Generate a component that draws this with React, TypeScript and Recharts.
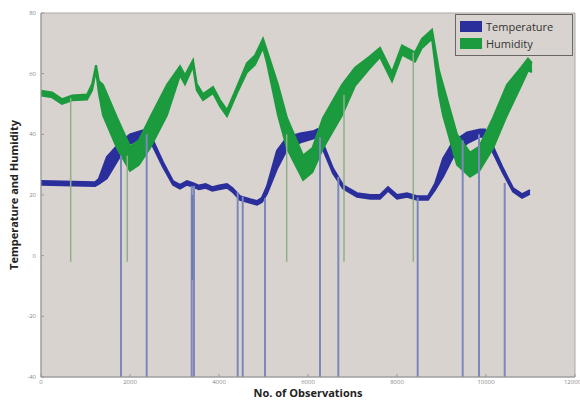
import React from "react";
import {
  ComposedChart,
  Area,
  XAxis,
  YAxis,
  ReferenceArea,
  ReferenceLine,
  Legend,
  Label,
} from "recharts";

// temperature trace: observation index, value, half thickness of the noisy band
const tempObs = [
  0, 1213, 1300, 1480, 1775, 2000, 2290, 2517, 2742, 2966, 3124, 3280, 3420, 3550,
  3700, 3850, 4000, 4180, 4300, 4472, 4700, 4854, 4966, 5079, 5303, 5528, 5820,
  6112, 6220, 6337, 6562, 6787, 7101, 7400, 7618, 7798, 8000, 8225, 8450, 8697,
  8854, 9034, 9258, 9573, 9865, 9978, 10157, 10382, 10607, 10809, 10989,
];
const tempVal = [
  24, 23.6, 24.5, 29, 35, 38.5, 39.8, 37, 30, 24, 22.7, 24, 23.3, 22.5, 23, 22,
  22.5, 23, 21.7, 19, 18, 17.4, 18.4, 21.7, 31.6, 37, 38.8, 39.8, 40.5, 36, 28,
  22.7, 20, 19.4, 19.4, 22, 19.4, 20, 19, 19, 22.7, 29, 35, 38.8, 40.4, 40.4, 35,
  28, 21.7, 19.7, 21,
];
const tempBand = [
  0.6, 0.6, 0.8, 3.5, 2.3, 1.5, 1.5, 1, 0.8, 0.6, 0.6, 0.6, 0.6, 0.6, 0.6, 0.6,
  0.6, 0.6, 0.6, 0.6, 0.6, 0.6, 0.7, 1.2, 3, 2, 1.5, 1.2, 1.2, 1, 0.8, 0.6, 0.6,
  0.6, 0.6, 0.6, 0.6, 0.6, 0.6, 0.6, 1, 3, 2.5, 1.8, 1.2, 1.2, 1, 0.8, 0.6, 0.6,
  0.6,
];

// humidity trace
const humObs = [
  0, 250, 470, 700, 1034, 1150, 1236, 1300, 1393, 1708, 2000, 2200, 2450, 2831,
  3124, 3236, 3416, 3500, 3640, 3865, 4022, 4180, 4404, 4629, 4809, 4989, 5079,
  5326, 5528, 5890, 6100, 6337, 6764, 7056, 7371, 7618, 7888, 8112, 8404, 8560,
  8787, 8944, 9034, 9348, 9640, 9850, 10157, 10472, 10787, 10944, 11034,
];
const humVal = [
  53.6, 53, 50.8, 52, 52.3, 55.6, 62, 55.6, 51.3, 40.5, 32, 34, 40.5, 51.3, 61, 58,
  63.5, 55.6, 52.3, 54.6, 50.3, 47, 54.6, 62, 64.5, 70, 65.5, 51.3, 40.4, 29, 31.5,
  40.4, 51.3, 59, 63.5, 67, 59, 67.8, 65.5, 70, 73, 57, 51.3, 35, 30, 32, 40.4,
  51.3, 59, 63, 62,
];
const humBand = [
  0.8, 0.8, 0.8, 0.8, 0.8, 1, 0.8, 2, 5, 5, 4, 4, 5, 5, 1.5, 1.5, 1, 1, 1, 1, 1, 1,
  1, 1.5, 1.5, 1.5, 2, 5, 5, 4, 4, 5, 5, 3, 2, 1.5, 1.5, 1.5, 1.5, 1.5, 1.5, 4, 5,
  5, 4, 4, 5, 5, 3, 2, 1.5,
];

// sensor dropouts: where each glitch line sits and where it starts
const tempSpikeObs = [1798, 2375, 3387, 3438, 4420, 4533, 5034, 6270, 6681, 8465, 9476, 9843, 10420];
const tempSpikeTop = [33, 40, 23, 23, 21, 19.5, 19, 39, 26, 19.2, 38, 40, 24];
const humSpikeObs = [667, 1939, 5521, 6809, 8366];
const humSpikeTop = [52, 33, 40, 53, 67];
const spikeFloorTemp = -40;
const spikeFloorHum = -2;

const xTicks = [0, 2000, 4000, 6000, 8000, 10000, 12000];
const yTicks = [-40, -20, 0, 20, 40, 60, 80];

const tempData = tempObs.map((o, i) => ({
  obs: o,
  range: [tempVal[i] - tempBand[i], tempVal[i] + tempBand[i]],
}));
const humData = humObs.map((o, i) => ({
  obs: o,
  range: [humVal[i] - humBand[i], humVal[i] + humBand[i]],
}));

const BLUE = "#2a2f9c";
const GREEN = "#1b9a3e";
const PLOT_BG = "#d8d3ce";

function LegendBox() {
  const item = (color: string, text: string) => (
    <div style={{ display: "flex", alignItems: "center", height: 17 }}>
      <div style={{ width: 22, height: 11, background: color, marginRight: 4 }} />
      <span style={{ fontSize: 11, color: "#333" }}>{text}</span>
    </div>
  );
  return (
    <div
      style={{
        border: "1px solid #666",
        background: PLOT_BG,
        padding: "3px 4px",
        width: 108,
        fontFamily: "'Open Sans', sans-serif",
        textAlign: "left",
      }}
    >
      {item(BLUE, "Temperature")}
      {item(GREEN, "Humidity")}
    </div>
  );
}

export default function App() {
  const tickStyle = { fontSize: 6, fill: "#888", fontFamily: "'Open Sans', sans-serif" };
  return (
    <div style={{ position: "absolute", left: 0, top: 0, background: "#fff" }}>
      <ComposedChart width={580} height={400} margin={{ top: 13, right: 5, bottom: 0, left: 0 }}>
        <XAxis
          dataKey="obs"
          type="number"
          domain={[0, 12000]}
          ticks={xTicks}
          allowDataOverflow
          height={23}
          tick={tickStyle}
          tickSize={-3}
          tickMargin={6}
          stroke="#999"
        >
          <Label
            value="No. of Observations"
            position="center"
            dy={5}
            style={{ fontSize: 11, fontWeight: 700, fill: "#222", fontFamily: "'Open Sans', sans-serif" }}
          />
        </XAxis>
        <YAxis
          type="number"
          domain={[-40, 80]}
          ticks={yTicks}
          allowDataOverflow
          width={41}
          tick={tickStyle}
          tickSize={-3}
          tickMargin={8}
          stroke="#999"
        >
          <Label
            value="Temperature and Humidity"
            position="center"
            angle={-90}
            dx={-6}
            style={{ fontSize: 11, fontWeight: 700, fill: "#222", fontFamily: "'Open Sans', sans-serif" }}
          />
        </YAxis>
        <ReferenceArea x1={0} x2={12000} y1={-40} y2={80} fill={PLOT_BG} fillOpacity={1} stroke="#aaa" />
        {tempSpikeObs.map((o, i) => (
          <ReferenceLine
            key={"t" + i}
            segment={[{ x: o, y: tempSpikeTop[i] }, { x: o, y: spikeFloorTemp }]}
            stroke="#7c88bd"
            strokeWidth={2}
          />
        ))}
        <ReferenceLine segment={[{ x: 3400, y: 20 }, { x: 3400, y: -8 }]} stroke="#6f7bb5" strokeWidth={2} />
        {humSpikeObs.map((o, i) => (
          <ReferenceLine
            key={"h" + i}
            segment={[{ x: o, y: humSpikeTop[i] }, { x: o, y: spikeFloorHum }]}
            stroke="#8fb08a"
            strokeWidth={1.5}
          />
        ))}
        <Area
          data={tempData}
          dataKey="range"
          type="linear"
          stroke={BLUE}
          strokeWidth={2}
          fill={BLUE}
          fillOpacity={1}
          isAnimationActive={false}
          legendType="none"
        />
        <Area
          data={humData}
          dataKey="range"
          type="linear"
          stroke={GREEN}
          strokeWidth={2}
          fill={GREEN}
          fillOpacity={1}
          isAnimationActive={false}
          legendType="none"
        />
        <Legend
          content={<LegendBox />}
          layout="horizontal"
          verticalAlign="middle"
          align="center"
          wrapperStyle={{ top: 14, left: 455, width: 118 }}
        />
      </ComposedChart>
    </div>
  );
}
